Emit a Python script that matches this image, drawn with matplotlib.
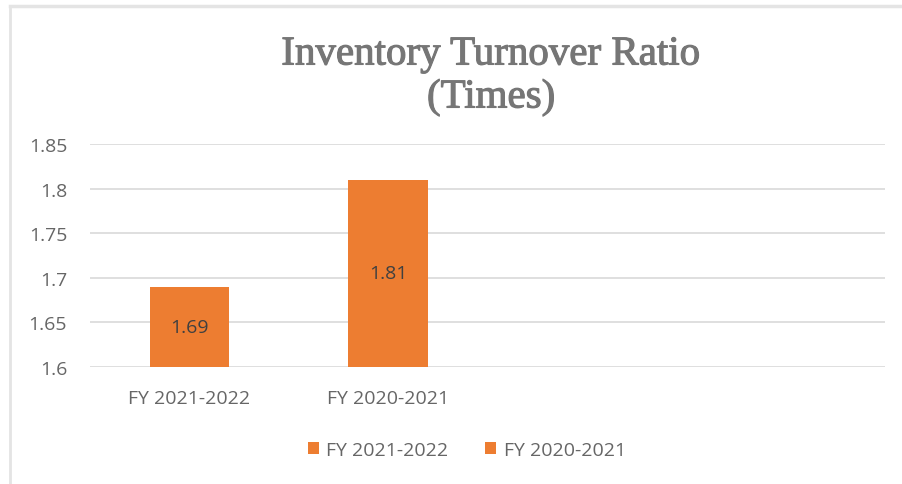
import matplotlib
matplotlib.use("Agg")
import matplotlib.pyplot as plt
import matplotlib.patheffects as pe
from matplotlib.lines import Line2D
from matplotlib.patches import Patch

categories = ["FY 2021-2022", "FY 2020-2021", "", ""]
series_names = ["FY 2021-2022", "FY 2020-2021"]
values = [1.69, 1.81]
y_ticks = [1.6, 1.65, 1.7, 1.75, 1.8, 1.85]
y_tick_labels = ["1.6", "1.65", "1.7", "1.75", "1.8", "1.85"]

BAR = "#ED7D31"
GRID = "#D9D9D9"
TXT = "#666666"
TITLE = "#767676"

fig = plt.figure(figsize=(9.03, 4.85), dpi=100)
fig.patch.set_facecolor("white")

# chart frame edges (top and left)
fig.lines.append(Line2D([10 / 903, 1.0], [1 - 7 / 485, 1 - 7 / 485],
                        transform=fig.transFigure, color="#E4E4E4", linewidth=2.5))
fig.lines.append(Line2D([10 / 903, 10 / 903], [0.0, 1 - 7 / 485],
                        transform=fig.transFigure, color="#E4E4E4", linewidth=2.0))

ax = fig.add_axes([90 / 903, 1 - 368 / 485, 795 / 903, 223 / 485])
ax.set_xlim(-0.5, len(categories) - 0.5)
ax.set_ylim(1.6, 1.85)

bottom = 1.6
for i, v in enumerate(values):
    ax.bar(i, v - bottom, bottom=bottom, width=0.4, color=BAR, zorder=3)
    ax.text(i, (v + bottom) / 2, f"{v:.2f}", ha="center", va="center",
            fontsize=14, color="#404040", family="Open Sans", zorder=4)

ax.set_yticks(y_ticks)
ax.set_yticklabels(y_tick_labels)
ax.set_xticks(range(len(categories)))
ax.set_xticklabels(categories)
ax.grid(axis="y", color=GRID, linewidth=1.2, zorder=0)
for s in ax.spines.values():
    s.set_visible(False)
ax.tick_params(length=0, colors=TXT, labelsize=14)
ax.tick_params(axis="y", pad=16.5)
ax.tick_params(axis="x", pad=16)
for lbl in ax.get_xticklabels() + ax.get_yticklabels():
    lbl.set_family("Open Sans")
    lbl.set_color(TXT)

title_fx = [pe.withStroke(linewidth=0.8, foreground=TITLE)]
fig.text(491 / 903, 1 - 56 / 485, "Inventory Turnover Ratio", ha="center",
         va="center", fontsize=29.5, color=TITLE, family="Liberation Serif",
         path_effects=title_fx)
fig.text(491 / 903, 1 - 99 / 485, "(Times)", ha="center", va="center",
         fontsize=29.5, color=TITLE, family="Liberation Serif",
         path_effects=title_fx)

handles = [Patch(facecolor=BAR, edgecolor="none") for _ in series_names]
leg = fig.legend(handles, series_names, loc="center",
                 bbox_to_anchor=(467 / 903, 1 - 451 / 485), ncol=2,
                 frameon=False, handlelength=0.55, handleheight=0.55,
                 handletextpad=0.4, columnspacing=1.9,
                 prop={"family": "Open Sans", "size": 14})
for t in leg.get_texts():
    t.set_color(TXT)

fig.savefig("out.png", dpi=100, facecolor="white")
